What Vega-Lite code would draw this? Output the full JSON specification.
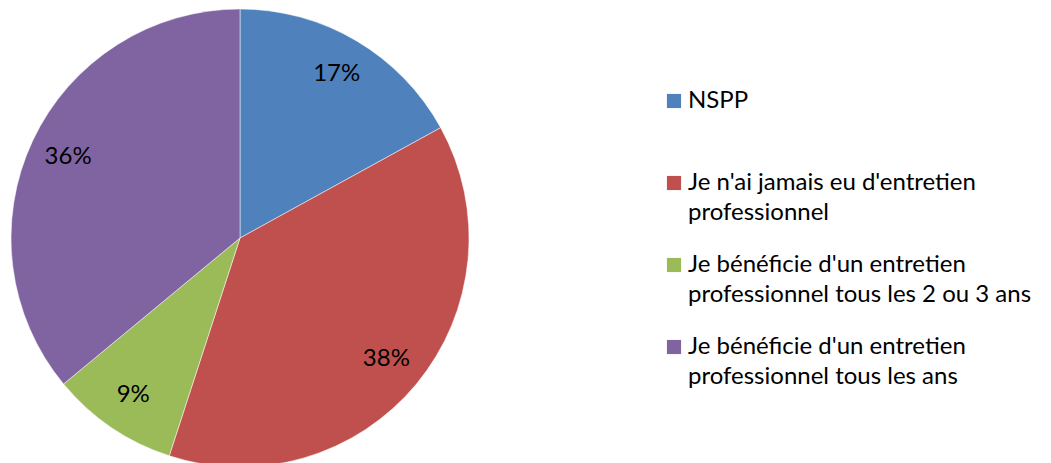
{
  "$schema": "https://vega.github.io/schema/vega-lite/v6.json",
  "autosize": {"type": "none"},
  "width": 480,
  "height": 476,
  "padding": {"left": 0, "top": 0, "right": 571, "bottom": -13},
  "background": "white",
  "config": {"view": {"stroke": null}, "font": "Lato", "style": {"guide-label": {"lineHeight": 30}}},
  "data": {
    "values": [
      {"cat": "NSPP", "pct": 17, "label": "17%", "order": 1},
      {"cat": "Je n'ai jamais eu d'entretien professionnel", "pct": 38, "label": "38%", "order": 2},
      {"cat": "Je bénéficie d'un entretien professionnel tous les 2 ou 3 ans", "pct": 9, "label": "9%", "order": 3},
      {"cat": "Je bénéficie d'un entretien professionnel tous les ans", "pct": 36, "label": "36%", "order": 4}
    ]
  },
  "encoding": {
    "theta": {"field": "pct", "type": "quantitative", "stack": true},
    "order": {"field": "order", "type": "quantitative"}
  },
  "layer": [
    {
      "mark": {"type": "arc", "outerRadius": 229, "stroke": "white", "strokeWidth": 0.5},
      "encoding": {
        "color": {
          "field": "cat",
          "type": "nominal",
          "sort": ["NSPP", "Je n'ai jamais eu d'entretien professionnel", "Je bénéficie d'un entretien professionnel tous les 2 ou 3 ans", "Je bénéficie d'un entretien professionnel tous les ans"],
          "scale": {
            "domain": ["NSPP", "Je n'ai jamais eu d'entretien professionnel", "Je bénéficie d'un entretien professionnel tous les 2 ou 3 ans", "Je bénéficie d'un entretien professionnel tous les ans"],
            "range": ["#4F81BD", "#C0504D", "#9BBB59", "#8064A2"]
          },
          "legend": {
            "title": null,
            "orient": "none",
            "legendX": 662,
            "legendY": 89,
            "symbolType": "square",
            "symbolSize": 200,
            "symbolStrokeWidth": 0,
            "labelFont": "Lato",
            "labelFontSize": 24,
            "labelColor": "#000000",
            "labelLimit": 400,
            "labelOffset": 2,
            "labelBaseline": "middle",
            "rowPadding": 28,
            "labelExpr": "datum.label == 'NSPP' ? ['NSPP', ' '] : datum.label == \"Je n'ai jamais eu d'entretien professionnel\" ? [\"Je n'ai jamais eu d'entretien\", 'professionnel'] : datum.label == \"Je bénéficie d'un entretien professionnel tous les 2 ou 3 ans\" ? [\"Je bénéficie d'un entretien\", 'professionnel tous les 2 ou 3 ans'] : [\"Je bénéficie d'un entretien\", 'professionnel tous les ans']"
          }
        }
      }
    },
    {
      "mark": {"type": "text", "radius": 190, "fontSize": 24, "font": "Lato", "color": "#000000"},
      "encoding": {
        "text": {"field": "label", "type": "nominal"},
        "detail": {"field": "cat"}
      }
    }
  ]
}
